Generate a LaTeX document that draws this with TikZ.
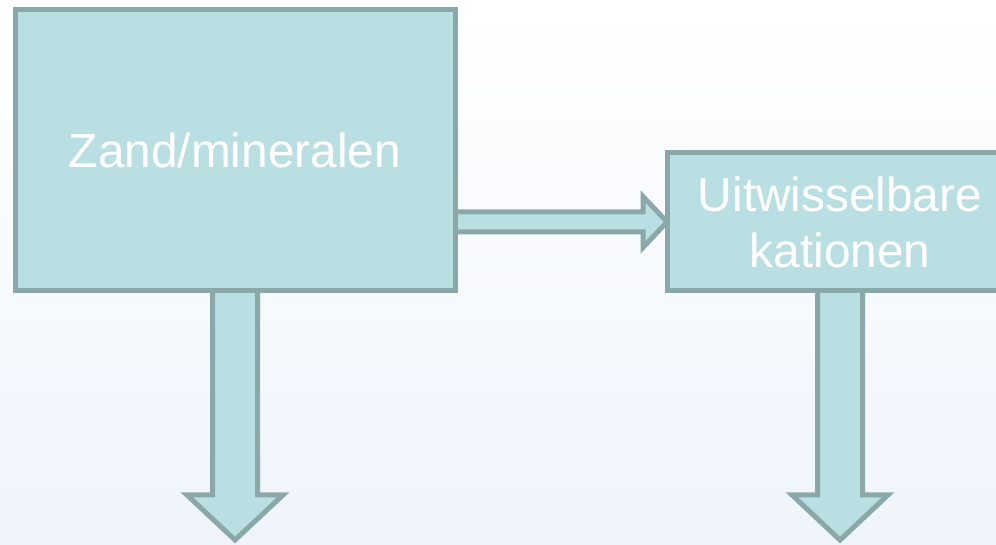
\documentclass[tikz,border=0pt]{standalone}
\usepackage{fontspec}
\setmainfont{Liberation Sans}
\usetikzlibrary{calc}
\definecolor{boxfill}{HTML}{BADFE2}
\definecolor{boxline}{HTML}{8AA8A9}
\definecolor{bgblue}{HTML}{EFF4FC}
\tikzset{
  box/.style={draw=boxline, fill=boxfill, line width=5pt, inner sep=0pt, outer sep=0pt,
    text=white, font=\fontsize{47.8}{56}\selectfont, align=center},
  arr/.style={draw=boxline, fill=boxfill, line width=5pt, miter limit=10}
}
\begin{document}
\begin{tikzpicture}[x=1pt,y=1pt]
\useasboundingbox (0,0) rectangle (996,545);
\clip (0,0) rectangle (996,545);
\shade[top color=white, bottom color=bgblue] (0,0) rectangle (996,545);
% nodes (positions)
\path (235,394.75) node[box, minimum width=440pt, minimum height=281.5pt] (a) {};
\path (840,323) node[box, minimum width=346pt, minimum height=138pt] (b) {};
% connectors
\coordinate (h0) at (a.east |- b.west);
\path[arr] ($(h0)+(0,10)$) -- ($(b.west)+(-24,10)$) -- ($(b.west)+(-24,25.5)$) -- (b.west)
  -- ($(b.west)+(-24,-25.5)$) -- ($(b.west)+(-24,-10)$) -- ($(h0)+(0,-10)$);
\coordinate (ta) at ($(a.south)+(0,-249)$);
\coordinate (tb) at ($(b.south)+(0,-249)$);
\foreach \s/\t in {a/ta, b/tb}{
  \path[arr] ($(\s.south)+(-22.5,0)$) -- ($(\t)+(-22.5,45)$) -- ($(\t)+(-48,45)$) -- (\t)
    -- ($(\t)+(48,45)$) -- ($(\t)+(22.5,45)$) -- ($(\s.south)+(22.5,0)$);
}
% boxes on top
\node[box, minimum width=440pt, minimum height=281.5pt] at (a) {Zand/mineralen};
\node[box, minimum width=346pt, minimum height=138pt] at (b) {Uitwisselbare\\kationen};
\end{tikzpicture}
\end{document}
